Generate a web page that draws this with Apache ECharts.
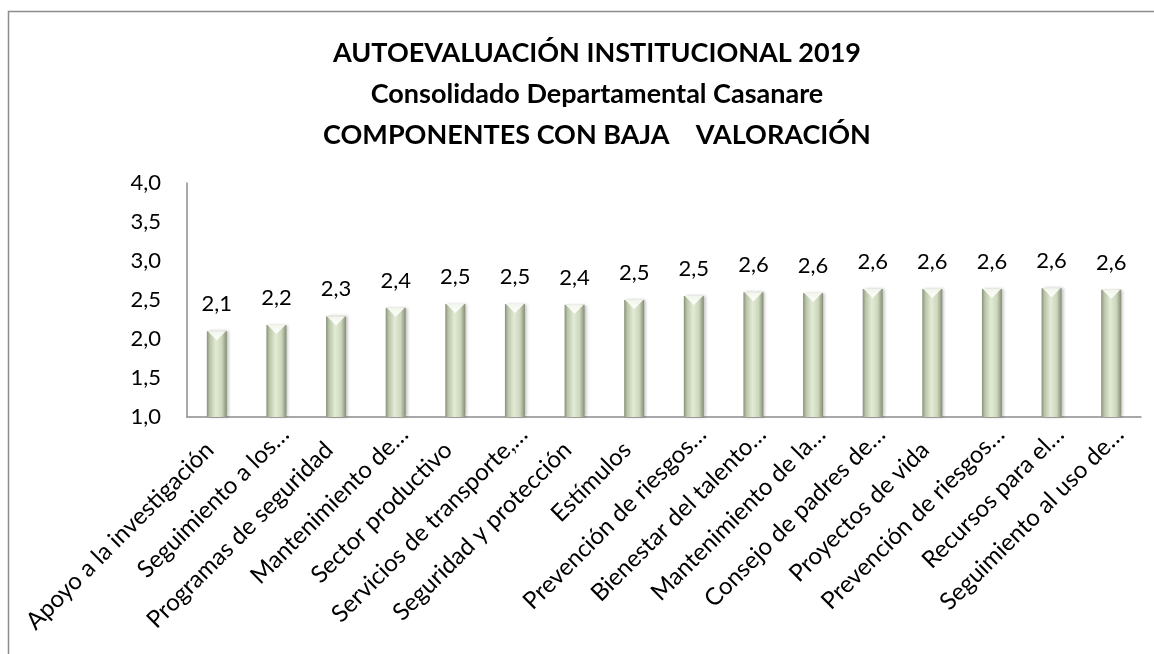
<!DOCTYPE html>
<html>
<head>
<meta charset="utf-8">
<script src="https://cdn.jsdelivr.net/npm/echarts@6/dist/echarts.min.js"></script>
<style>
html, body { margin: 0; padding: 0; background: #fff; }
#chart { width: 1154px; height: 654px; }
</style>
</head>
<body>
<div id="chart"></div>
<script>
var myChart = echarts.init(document.getElementById('chart'));
var fontFamily = 'Lato, "Open Sans", sans-serif';

var categories = [
    'Apoyo a la investigación',
    'Seguimiento a los…',
    'Programas de seguridad',
    'Mantenimiento de…',
    'Sector productivo',
    'Servicios de transporte,…',
    'Seguridad y protección',
    'Estímulos',
    'Prevención de riesgos…',
    'Bienestar del talento…',
    'Mantenimiento de la…',
    'Consejo de padres de…',
    'Proyectos de vida',
    'Prevención de riesgos…',
    'Recursos para el…',
    'Seguimiento al uso de…'
];
var values = [2.10, 2.18, 2.29, 2.40, 2.45, 2.45, 2.44, 2.50, 2.55, 2.60, 2.59, 2.64, 2.64, 2.64, 2.65, 2.63];

var titleLines = [
    'AUTOEVALUACIÓN INSTITUCIONAL 2019',
    'Consolidado Departamental Casanare',
    'COMPONENTES CON BAJA    VALORACIÓN'
];

function comma(v) {
    return v.toFixed(1).replace('.', ',');
}

var barColor = new echarts.graphic.LinearGradient(0, 0, 1, 0, [
    { offset: 0, color: '#87917a' },
    { offset: 0.15, color: '#b9c4a8' },
    { offset: 0.45, color: '#e3ebd5' },
    { offset: 0.75, color: '#cdd7bc' },
    { offset: 1, color: '#848e76' }
]);

var capColor = new echarts.graphic.LinearGradient(0, 0, 0, 1, [
    { offset: 0, color: '#ffffff' },
    { offset: 1, color: '#f1f5ea' }
]);

option = {
    backgroundColor: '#ffffff',
    animation: false,
    textStyle: {
        fontFamily: fontFamily
    },
    graphic: [{
        type: 'rect',
        shape: { x: 8.5, y: 11.5, width: 1200, height: 700 },
        style: { fill: 'none', stroke: '#8c8c8c', lineWidth: 1.5 }
    }],
    title: {
        text: titleLines.join('\n'),
        left: '51.3%',
        textAlign: 'center',
        top: 28,
        textStyle: {
            fontFamily: fontFamily,
            fontSize: 27,
            fontWeight: 'bold',
            color: '#000',
            lineHeight: 41
        }
    },
    grid: {
        left: 187,
        right: 13,
        top: 183,
        bottom: 237
    },
    xAxis: {
        type: 'category',
        data: categories,
        axisLine: { lineStyle: { color: '#8c8c8c', width: 1.5 } },
        axisTick: { show: false },
        axisLabel: {
            interval: 0,
            rotate: 45,
            margin: 5,
            verticalAlign: 'top',
            fontSize: 24,
            color: '#000',
            // full (untruncated) names sit a little further from the axis
            formatter: function (v) {
                return v.slice(-1) === '…' ? '{t|' + v + '}' : '{f|' + v + '}';
            },
            rich: {
                t: { fontSize: 24, color: '#000' },
                f: { fontSize: 24, color: '#000', padding: [0, 22, 0, 0] }
            }
        }
    },
    yAxis: {
        type: 'value',
        min: 1,
        max: 4,
        interval: 0.5,
        splitLine: { show: false },
        axisLine: { show: true, lineStyle: { color: '#8c8c8c', width: 1.5 } },
        axisTick: { show: false },
        axisLabel: {
            margin: 26,
            fontSize: 22,
            color: '#000',
            formatter: function (v) { return comma(v); }
        }
    },
    series: [{
        type: 'bar',
        data: values,
        barWidth: 20,
        itemStyle: {
            color: barColor,
            shadowColor: 'rgba(0,0,0,0.25)',
            shadowBlur: 3,
            shadowOffsetX: 2
        },
        label: {
            show: true,
            position: 'top',
            distance: 16,
            fontSize: 22,
            color: '#000',
            formatter: function (p) { return comma(p.value); }
        }
    }, {
        type: 'pictorialBar',
        data: values,
        symbol: 'triangle',
        symbolRotate: 180,
        symbolSize: [18, 9],
        symbolPosition: 'end',
        barGap: '-100%',
        itemStyle: { color: capColor },
        silent: true,
        z: 3
    }]
};
myChart.setOption(option);
</script>
</body>
</html>
